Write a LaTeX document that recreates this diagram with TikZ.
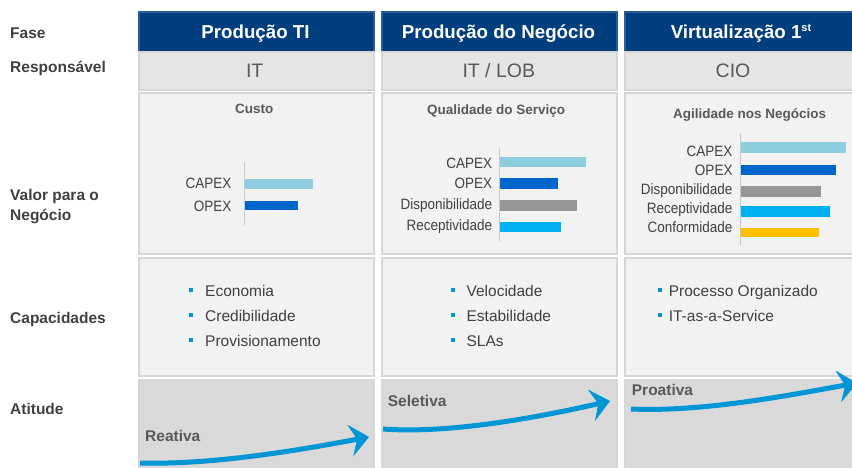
\documentclass[tikz,border=0pt]{standalone}
\usepackage{fontspec}
\setmainfont{Liberation Sans}
\newfontfamily\lblfont[FakeStretch=0.9]{Liberation Sans}
\usetikzlibrary{arrows.meta}
\definecolor{hdrblue}{HTML}{003E7E}
\definecolor{hdredge}{HTML}{2A5C98}
\definecolor{rowgrey}{HTML}{E5E5E5}
\definecolor{cellgrey}{HTML}{F2F2F2}
\definecolor{attgrey}{HTML}{D9D9D9}
\definecolor{edgegrey}{HTML}{D6D6D6}
\definecolor{labeltext}{HTML}{404040}
\definecolor{midtext}{HTML}{595959}
\definecolor{capexc}{HTML}{8ECDE0}
\definecolor{opexc}{HTML}{0066CC}
\definecolor{dispc}{HTML}{969696}
\definecolor{recc}{HTML}{00B0F0}
\definecolor{confc}{HTML}{FFC000}
\definecolor{arrowblue}{HTML}{0095D5}
\definecolor{bulletblue}{HTML}{0096D6}
\definecolor{axisgrey}{HTML}{C8C8C8}
\newcommand{\supst}{\raisebox{7pt}{\fontsize{11}{11}\selectfont st}}
\begin{document}
\begin{tikzpicture}[x=1pt,y=-1pt,
  box/.style={draw=edgegrey, line width=1.2pt, inner sep=0pt, minimum width=235pt},
  hdrbox/.style={box, fill=hdrblue, draw=hdredge, minimum height=40pt},
  respbox/.style={box, fill=rowgrey, minimum height=38pt},
  valbox/.style={box, fill=cellgrey, minimum height=161pt},
  capbox/.style={box, fill=cellgrey, minimum height=118pt},
  attbox/.style={box, fill=attgrey, minimum height=93pt},
  hdrtext/.style={anchor=base, inner sep=0pt, text=white, font=\bfseries\fontsize{18.7}{22}\selectfont},
  resptext/.style={anchor=base, inner sep=0pt, text=midtext, font=\fontsize{19.5}{23}\selectfont},
  rowlbl/.style={anchor=base west, inner sep=0pt, text=labeltext, font=\bfseries\fontsize{15.5}{19}\selectfont},
  charttitle/.style={anchor=base, inner sep=0pt, text=midtext, font=\bfseries\fontsize{13.5}{16}\selectfont},
  barlbl/.style={anchor=base east, inner sep=0pt, text=labeltext, font=\lblfont\fontsize{15}{18}\selectfont},
  bar/.style={anchor=west, inner sep=0pt, draw=none},
  axisline/.style={draw=axisgrey, line width=1pt},
  bul/.style={fill=bulletblue, inner sep=0pt, minimum size=4pt},
  captext/.style={anchor=base west, inner sep=0pt, text=labeltext, font=\fontsize{15.5}{19}\selectfont},
  atttext/.style={anchor=base west, inner sep=0pt, text=midtext, font=\bfseries\fontsize{15.5}{19}\selectfont},
  arr/.style={draw=arrowblue, line width=5pt, -{Stealth[length=19pt, width=32pt, inset=7pt, line width=0.5pt]}}
]
\clip (0,0) rectangle (852,468);
\fill[white] (0,0) rectangle (852,468);

% boxes
\node[hdrbox] (h1) at (256.5,32) {};
\node[hdrbox] (h2) at (499.5,32) {};
\node[hdrbox] (h3) at (742.5,32) {};
\node[respbox] (r1) at (256.5,71) {};
\node[respbox] (r2) at (499.5,71) {};
\node[respbox] (r3) at (742.5,71) {};
\node[valbox] (v1) at (256.5,173.5) {};
\node[valbox] (v2) at (499.5,173.5) {};
\node[valbox] (v3) at (742.5,173.5) {};
\node[capbox] (c1) at (256.5,317) {};
\node[capbox] (c2) at (499.5,317) {};
\node[capbox] (c3) at (742.5,317) {};
\node[attbox] (a1) at (256.5,426) {};
\node[attbox] (a2) at (499.5,426) {};
\node[attbox] (a3) at (742.5,426) {};

% row labels
\node[rowlbl] (lfase) at (10,38.5) {Fase};
\node[rowlbl] (lresp) at (10,72.5) {Responsável};
\node[rowlbl] (lval1) at (10,200.5) {Valor para o};
\node[rowlbl] (lval2) at (10,220.5) {Negócio};
\node[rowlbl] (lcap) at (10,323.5) {Capacidades};
\node[rowlbl] (latt) at (10,414.5) {Atitude};

% header texts
\node[hdrtext] (th1) at (255.5,38.3) {Produção TI};
\node[hdrtext] (th2) at (498.5,38.3) {Produção do Negócio};
\node[hdrtext] (th3) at (741,38.3) {Virtualização 1\supst};

% responsible texts
\node[resptext] (tr1) at (254.7,77.3) {IT};
\node[resptext] (tr2) at (498.8,77.3) {IT / LOB};
\node[resptext] (tr3) at (733,77.3) {CIO};

% chart titles
\node[charttitle] (ct1) at (254.3,114) {Custo};
\node[charttitle] (ct2) at (496.2,114.3) {Qualidade do Serviço};
\node[charttitle] (ct3) at (749.7,118.3) {Agilidade nos Negócios};

% chart 1
\coordinate (ax1t) at (244.3,161.7);
\coordinate (ax1b) at (244.3,225);
\draw[axisline] (ax1t) -- (ax1b);
\node[bar, fill=capexc, minimum width=68.4pt, minimum height=10pt] (b11) at (244.8,184.3) {};
\node[bar, fill=opexc, minimum width=53.4pt, minimum height=9.5pt] (b12) at (244.8,205.4) {};
\node[barlbl] (l11) at (231.7,188.8) {CAPEX};
\node[barlbl] (l12) at (231.7,211.5) {OPEX};

% chart 2
\coordinate (ax2t) at (499,148);
\coordinate (ax2b) at (499,240.7);
\draw[axisline] (ax2t) -- (ax2b);
\node[bar, fill=capexc, minimum width=86pt, minimum height=10.5pt] (b21) at (499.5,162) {};
\node[bar, fill=opexc, minimum width=58.7pt, minimum height=10.4pt] (b22) at (499.5,183.5) {};
\node[bar, fill=dispc, minimum width=77.7pt, minimum height=10.7pt] (b23) at (499.5,205.3) {};
\node[bar, fill=recc, minimum width=61.7pt, minimum height=10pt] (b24) at (499.5,226.7) {};
\node[barlbl] (l21) at (492.3,168.3) {CAPEX};
\node[barlbl] (l22) at (492.3,188.3) {OPEX};
\node[barlbl] (l23) at (492.3,209.3) {Disponibilidade};
\node[barlbl] (l24) at (492.3,230) {Receptividade};

% chart 3
\coordinate (ax3t) at (740.7,133.3);
\coordinate (ax3b) at (740.7,245);
\draw[axisline] (ax3t) -- (ax3b);
\node[bar, fill=capexc, minimum width=105pt, minimum height=11pt] (b31) at (741.2,147.8) {};
\node[bar, fill=opexc, minimum width=94.3pt, minimum height=10pt] (b32) at (741.2,170) {};
\node[bar, fill=dispc, minimum width=80pt, minimum height=10.7pt] (b33) at (741.2,191.3) {};
\node[bar, fill=recc, minimum width=88.6pt, minimum height=10.7pt] (b34) at (741.2,211.3) {};
\node[bar, fill=confc, minimum width=78.3pt, minimum height=9.6pt] (b35) at (740.7,232.5) {};
\node[barlbl] (l31) at (732.7,156.7) {CAPEX};
\node[barlbl] (l32) at (732.7,176) {OPEX};
\node[barlbl] (l33) at (732.7,195) {Disponibilidade};
\node[barlbl] (l34) at (732.7,213.3) {Receptividade};
\node[barlbl] (l35) at (732.7,232.7) {Conformidade};

% capacidades
\node[bul] (k11) at (190.5,290.2) {};
\node[bul] (k12) at (190.5,315.2) {};
\node[bul] (k13) at (190.5,340.2) {};
\node[captext] (t11) at (205,296.7) {Economia};
\node[captext] (t12) at (205,321.7) {Credibilidade};
\node[captext] (t13) at (205,346.7) {Provisionamento};
\node[bul] (k21) at (453,290.2) {};
\node[bul] (k22) at (453,315.2) {};
\node[bul] (k23) at (453,340.2) {};
\node[captext] (t21) at (466.4,296.7) {Velocidade};
\node[captext] (t22) at (466.4,321.7) {Estabilidade};
\node[captext] (t23) at (466.4,346.7) {SLAs};
\node[bul] (k31) at (660,290.2) {};
\node[bul] (k32) at (660,315.2) {};
\node[captext] (t31) at (668.6,296.7) {Processo Organizado};
\node[captext] (t32) at (668.6,321.7) {IT-as-a-Service};

% atitude
\node[atttext] (at1) at (145,441) {Reativa};
\node[atttext] (at2) at (387.7,406.7) {Seletiva};
\node[atttext] (at3) at (631.7,395) {Proativa};

\coordinate (s1) at (140,463);
\coordinate (e1) at (369,437);
\coordinate (s2) at (383,429);
\coordinate (e2) at (610,401);
\coordinate (s3) at (631,409);
\coordinate (e3) at (857,383);
\draw[arr] (s1) .. controls (210,465) and (295,451) .. (e1);
\draw[arr] (s2) .. controls (450,434) and (540,417) .. (e2);
\draw[arr] (s3) .. controls (700,412) and (780,397) .. (e3);
\end{tikzpicture}
\end{document}
